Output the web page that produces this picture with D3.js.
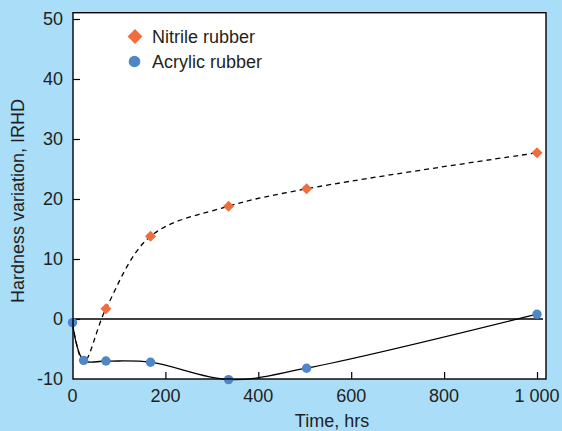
<!DOCTYPE html>
<html>
<head>
<meta charset="utf-8">
<script src="https://cdn.jsdelivr.net/npm/d3@7"></script>
<style>
  html, body { margin: 0; padding: 0; background: #aadef8; }
  svg { display: block; font-family: "Liberation Sans", Arial, sans-serif; }
</style>
</head>
<body>
<svg id="chart" width="562" height="431"></svg>
<script>
// Hardness change (IRHD) over ageing time for two rubber compounds
const nitrileTimes  = [72, 168, 336, 504, 1000];
const nitrileValues = [1.7, 13.8, 18.8, 21.7, 27.7];

// Knots of the fitted trend for nitrile rubber (shares the early readings)
const nitrileFitTimes  = [0, 24, 72, 168, 336, 504, 1000];
const nitrileFitValues = [-0.8, -7.2, 1.7, 13.8, 18.8, 21.7, 27.7];

const acrylicTimes  = [0, 24, 72, 168, 336, 504, 1000];
const acrylicValues = [-0.6, -6.9, -7.0, -7.2, -10.1, -8.2, 0.8];

const xTicks = [0, 200, 400, 600, 800, 1000];
const yTicks = [-10, 0, 10, 20, 30, 40, 50];

const seriesNames = ["Nitrile rubber", "Acrylic rubber"];
const colors = { nitrile: "#f36d3c", acrylic: "#4e86c8" };
const ink = "#231f20";

const svg = d3.select("#chart");

const plot = { left: 73, right: 546, top: 12.7, bottom: 379 };

const x = d3.scaleLinear().domain([0, 1000]).range([72.5, 537]);
const y = d3.scaleLinear().domain([-10, 50]).range([379, 19]);

const fmt = d3.formatLocale({ decimal: ".", thousands: "\u00a0", grouping: [3], currency: ["", ""] }).format(",d");

// plot area
svg.append("rect")
  .attr("x", plot.left).attr("y", plot.top)
  .attr("width", plot.right - plot.left).attr("height", plot.bottom - plot.top)
  .attr("fill", "#fff");

svg.append("clipPath").attr("id", "clip")
  .append("rect")
  .attr("x", plot.left - 6).attr("y", plot.top)
  .attr("width", plot.right - plot.left + 6).attr("height", plot.bottom - plot.top + 6);

// zero line
svg.append("line")
  .attr("x1", plot.left).attr("x2", 543)
  .attr("y1", y(0)).attr("y2", y(0))
  .attr("stroke", "#000").attr("stroke-width", 1.3);

// ticks (pointing inward)
const xAxis = d3.axisTop(x).tickValues(xTicks.filter(d => d > 0)).tickSize(7).tickFormat("");
svg.append("g").attr("transform", `translate(0,${plot.bottom})`).call(xAxis)
  .call(g => g.select(".domain").remove())
  .selectAll("line").attr("stroke", "#000").attr("stroke-width", 1.2);

const yAxis = d3.axisRight(y).tickValues(yTicks.filter(d => d > -10)).tickSize(7).tickFormat("");
svg.append("g").attr("transform", `translate(${plot.left},0)`).call(yAxis)
  .call(g => g.select(".domain").remove())
  .selectAll("line").attr("stroke", "#000").attr("stroke-width", 1.2);

// tick labels
svg.append("g").selectAll("text").data(xTicks).join("text")
  .attr("x", d => x(d)).attr("y", 401.5)
  .attr("text-anchor", "middle")
  .attr("font-size", 18).attr("fill", ink)
  .text(d => fmt(d));

svg.append("g").selectAll("text").data(yTicks).join("text")
  .attr("x", 63).attr("y", d => y(d) + 6.3)
  .attr("text-anchor", "end")
  .attr("font-size", 18).attr("fill", ink)
  .text(d => d);

// axis titles
svg.append("text")
  .attr("x", 332).attr("y", 427)
  .attr("text-anchor", "middle")
  .attr("font-size", 18).attr("fill", ink)
  .text("Time, hrs");

svg.append("text")
  .attr("transform", "translate(24,201) rotate(-90)")
  .attr("text-anchor", "middle")
  .attr("font-size", 18).attr("fill", ink)
  .text("Hardness variation, IRHD");

// fitted curves
const curve = d3.line()
  .x(d => x(d[0])).y(d => y(d[1]))
  .curve(d3.curveCatmullRom.alpha(0.5));

const g = svg.append("g").attr("clip-path", "url(#clip)");

g.append("path")
  .datum(nitrileFitTimes.map((t, i) => [t, nitrileFitValues[i]]))
  .attr("d", curve)
  .attr("fill", "none").attr("stroke", "#000")
  .attr("stroke-width", 1.3).attr("stroke-dasharray", "5,4");

g.append("path")
  .datum(acrylicTimes.map((t, i) => [t, acrylicValues[i]]))
  .attr("d", curve)
  .attr("fill", "none").attr("stroke", "#000")
  .attr("stroke-width", 1.3);

// markers
const diamond = d3.symbol().type(d3.symbolDiamond2).size(78);
const legendDiamond = d3.symbol().type(d3.symbolDiamond2).size(140);

g.selectAll(".nitrile").data(nitrileTimes.map((t, i) => [t, nitrileValues[i]])).join("path")
  .attr("class", "nitrile")
  .attr("transform", d => `translate(${x(d[0])},${y(d[1])})`)
  .attr("d", diamond)
  .attr("fill", colors.nitrile);

g.selectAll(".acrylic").data(acrylicTimes.map((t, i) => [t, acrylicValues[i]])).join("circle")
  .attr("class", "acrylic")
  .attr("cx", d => x(d[0])).attr("cy", d => y(d[1]))
  .attr("r", 4.7)
  .attr("fill", colors.acrylic);

// frame
svg.append("rect")
  .attr("x", plot.left).attr("y", plot.top)
  .attr("width", plot.right - plot.left).attr("height", plot.bottom - plot.top)
  .attr("fill", "none").attr("stroke", "#000").attr("stroke-width", 1.4);

// legend
const legend = svg.append("g");
legend.append("path")
  .attr("transform", "translate(135,36.5)")
  .attr("d", legendDiamond)
  .attr("fill", colors.nitrile);
legend.append("circle")
  .attr("cx", 134.5).attr("cy", 61.5).attr("r", 5.8)
  .attr("fill", colors.acrylic);
legend.selectAll("text").data(seriesNames).join("text")
  .attr("x", 152).attr("y", (d, i) => 43 + i * 25)
  .attr("font-size", 18).attr("fill", ink)
  .text(d => d);
</script>
</body>
</html>
